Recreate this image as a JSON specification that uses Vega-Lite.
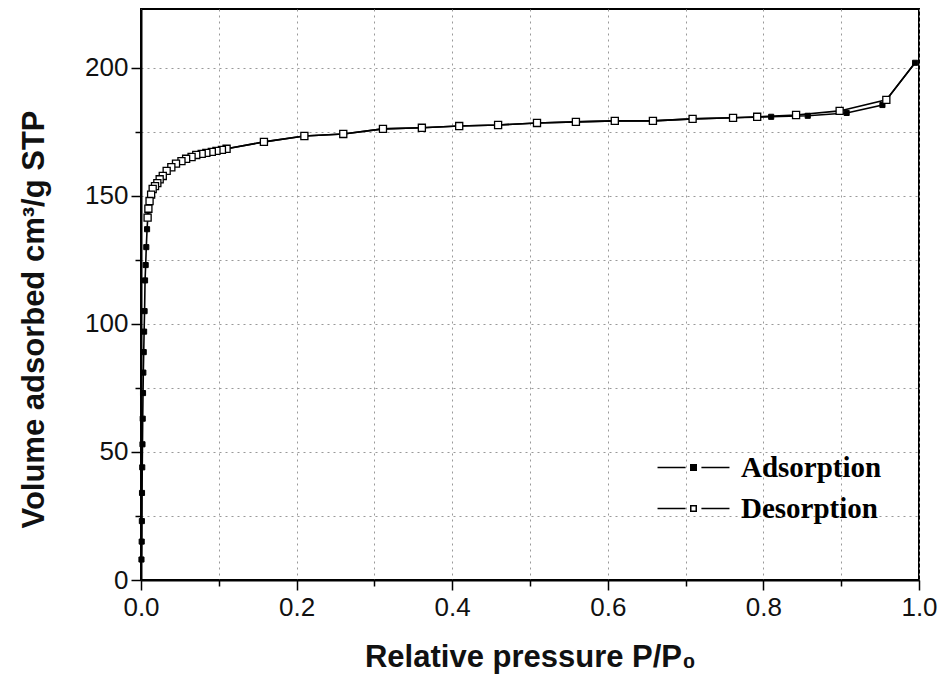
{
  "$schema": "https://vega.github.io/schema/vega-lite/v6.json",
  "width": 778,
  "height": 571,
  "autosize": {"type": "none"},
  "padding": {"left": 141, "top": 9, "right": 22, "bottom": 105},
  "background": "white",
  "config": {
    "view": {"stroke": "black", "strokeWidth": 2},
    "axis": {
      "domainColor": "black", "domainWidth": 2,
      "tickColor": "black", "tickWidth": 1.5,
      "labelFont": "Liberation Sans", "labelFontSize": 26, "labelColor": "#111",
      "labelFlush": false,
      "titleFont": "Liberation Sans", "titleFontSize": 31, "titleFontWeight": "bold", "titleColor": "#111",
      "gridColor": "#999", "gridDash": [2, 4], "gridWidth": 1
    }
  },
  "datasets": {
    "iso": [
      {"P": 0.0006, "V": 8, "series": "Adsorption"},
      {"P": 0.0009, "V": 15, "series": "Adsorption"},
      {"P": 0.0011, "V": 23, "series": "Adsorption"},
      {"P": 0.0013, "V": 34, "series": "Adsorption"},
      {"P": 0.0016, "V": 44, "series": "Adsorption"},
      {"P": 0.0019, "V": 53, "series": "Adsorption"},
      {"P": 0.0022, "V": 63, "series": "Adsorption"},
      {"P": 0.0026, "V": 73, "series": "Adsorption"},
      {"P": 0.003, "V": 81, "series": "Adsorption"},
      {"P": 0.0035, "V": 89, "series": "Adsorption"},
      {"P": 0.004, "V": 97, "series": "Adsorption"},
      {"P": 0.0046, "V": 105, "series": "Adsorption"},
      {"P": 0.0052, "V": 117, "series": "Adsorption"},
      {"P": 0.006, "V": 123, "series": "Adsorption"},
      {"P": 0.0068, "V": 130, "series": "Adsorption"},
      {"P": 0.0078, "V": 137, "series": "Adsorption"},
      {"P": 0.0088, "V": 142, "series": "Adsorption"},
      {"P": 0.0105, "V": 147, "series": "Adsorption"},
      {"P": 0.0128, "V": 150, "series": "Adsorption"},
      {"P": 0.015, "V": 152.7, "series": "Adsorption"},
      {"P": 0.021, "V": 155, "series": "Adsorption"},
      {"P": 0.028, "V": 157.8, "series": "Adsorption"},
      {"P": 0.033, "V": 159.8, "series": "Adsorption"},
      {"P": 0.039, "V": 161.2, "series": "Adsorption"},
      {"P": 0.045, "V": 162.6, "series": "Adsorption"},
      {"P": 0.052, "V": 163.6, "series": "Adsorption"},
      {"P": 0.058, "V": 164.5, "series": "Adsorption"},
      {"P": 0.065, "V": 165.2, "series": "Adsorption"},
      {"P": 0.071, "V": 166, "series": "Adsorption"},
      {"P": 0.078, "V": 166.4, "series": "Adsorption"},
      {"P": 0.084, "V": 166.8, "series": "Adsorption"},
      {"P": 0.091, "V": 167.2, "series": "Adsorption"},
      {"P": 0.097, "V": 167.6, "series": "Adsorption"},
      {"P": 0.104, "V": 168, "series": "Adsorption"},
      {"P": 0.11, "V": 168.4, "series": "Adsorption"},
      {"P": 0.158, "V": 171.1, "series": "Adsorption"},
      {"P": 0.21, "V": 173.4, "series": "Adsorption"},
      {"P": 0.26, "V": 174.2, "series": "Adsorption"},
      {"P": 0.311, "V": 176.2, "series": "Adsorption"},
      {"P": 0.361, "V": 176.6, "series": "Adsorption"},
      {"P": 0.409, "V": 177.3, "series": "Adsorption"},
      {"P": 0.459, "V": 177.7, "series": "Adsorption"},
      {"P": 0.509, "V": 178.5, "series": "Adsorption"},
      {"P": 0.559, "V": 178.9, "series": "Adsorption"},
      {"P": 0.609, "V": 179.3, "series": "Adsorption"},
      {"P": 0.658, "V": 179.3, "series": "Adsorption"},
      {"P": 0.709, "V": 180.1, "series": "Adsorption"},
      {"P": 0.761, "V": 180.5, "series": "Adsorption"},
      {"P": 0.81, "V": 180.9, "series": "Adsorption"},
      {"P": 0.857, "V": 181.3, "series": "Adsorption"},
      {"P": 0.907, "V": 182.4, "series": "Adsorption"},
      {"P": 0.953, "V": 185.5, "series": "Adsorption"},
      {"P": 0.995, "V": 202, "series": "Adsorption"},
      {"P": 0.995, "V": 202, "series": "Desorption"},
      {"P": 0.958, "V": 187.5, "series": "Desorption"},
      {"P": 0.898, "V": 183.2, "series": "Desorption"},
      {"P": 0.842, "V": 181.6, "series": "Desorption"},
      {"P": 0.792, "V": 180.9, "series": "Desorption"},
      {"P": 0.761, "V": 180.5, "series": "Desorption"},
      {"P": 0.709, "V": 180.1, "series": "Desorption"},
      {"P": 0.658, "V": 179.3, "series": "Desorption"},
      {"P": 0.609, "V": 179.3, "series": "Desorption"},
      {"P": 0.559, "V": 178.9, "series": "Desorption"},
      {"P": 0.509, "V": 178.5, "series": "Desorption"},
      {"P": 0.459, "V": 177.7, "series": "Desorption"},
      {"P": 0.409, "V": 177.3, "series": "Desorption"},
      {"P": 0.361, "V": 176.6, "series": "Desorption"},
      {"P": 0.311, "V": 176.2, "series": "Desorption"},
      {"P": 0.26, "V": 174.2, "series": "Desorption"},
      {"P": 0.21, "V": 173.4, "series": "Desorption"},
      {"P": 0.158, "V": 171.1, "series": "Desorption"},
      {"P": 0.11, "V": 168.4, "series": "Desorption"},
      {"P": 0.104, "V": 168, "series": "Desorption"},
      {"P": 0.097, "V": 167.6, "series": "Desorption"},
      {"P": 0.091, "V": 167.2, "series": "Desorption"},
      {"P": 0.084, "V": 166.8, "series": "Desorption"},
      {"P": 0.078, "V": 166.4, "series": "Desorption"},
      {"P": 0.071, "V": 166, "series": "Desorption"},
      {"P": 0.065, "V": 165.2, "series": "Desorption"},
      {"P": 0.058, "V": 164.5, "series": "Desorption"},
      {"P": 0.052, "V": 163.6, "series": "Desorption"},
      {"P": 0.045, "V": 162.6, "series": "Desorption"},
      {"P": 0.039, "V": 161.2, "series": "Desorption"},
      {"P": 0.033, "V": 159.8, "series": "Desorption"},
      {"P": 0.028, "V": 157.8, "series": "Desorption"},
      {"P": 0.024, "V": 156.5, "series": "Desorption"},
      {"P": 0.021, "V": 155, "series": "Desorption"},
      {"P": 0.018, "V": 153.8, "series": "Desorption"},
      {"P": 0.015, "V": 152.7, "series": "Desorption"},
      {"P": 0.013, "V": 150.5, "series": "Desorption"},
      {"P": 0.011, "V": 148, "series": "Desorption"},
      {"P": 0.0095, "V": 145, "series": "Desorption"},
      {"P": 0.0085, "V": 141.5, "series": "Desorption"}
    ]
  },
  "data": {"name": "iso"},
  "encoding": {
    "x": {
      "field": "P", "type": "quantitative",
      "scale": {"domain": [0, 1], "nice": false, "zero": false},
      "axis": {
        "title": "Relative pressure P/P₀",
        "values": [0, 0.1, 0.2, 0.3, 0.4, 0.5, 0.6, 0.7, 0.8, 0.9, 1.0],
        "labelExpr": "round(datum.value*10) % 2 == 0 ? format(datum.value, '.1f') : ''",
        "tickSize": {"condition": {"test": "round(datum.value*10) % 2 == 0", "value": 10}, "value": 6},
        "labelPadding": 4,
        "titlePadding": 22,
        "grid": true
      }
    },
    "y": {
      "field": "V", "type": "quantitative",
      "scale": {"domain": [0, 223], "nice": false},
      "axis": {
        "title": "Volume adsorbed cm³/g STP",
        "values": [0, 25, 50, 75, 100, 125, 150, 175, 200],
        "labelExpr": "datum.value % 50 == 0 ? format(datum.value, 'd') : ''",
        "tickSize": {"condition": {"test": "datum.value % 50 == 0", "value": 10}, "value": 6},
        "labelPadding": 3,
        "titlePadding": 34,
        "titleY": 310,
        "grid": true
      }
    }
  },
  "layer": [
    {
      "mark": {"type": "line", "stroke": "black", "strokeWidth": 1.6},
      "encoding": {"detail": {"field": "series"}}
    },
    {
      "transform": [{"filter": "datum.series == 'Adsorption'"}],
      "mark": {"type": "square", "filled": true, "stroke": "black", "strokeWidth": 1, "size": 26, "opacity": 1},
      "encoding": {
        "fill": {
          "field": "series", "type": "nominal",
          "scale": {"domain": ["Adsorption", "Desorption"], "range": ["black", "white"]},
          "legend": {
            "orient": "none", "legendX": 538, "legendY": 444, "title": null,
            "symbolType": "M-5,0H-1.1M1.1,0H5M-0.38,-0.38H0.38V0.38H-0.38Z",
            "symbolSize": 207,
            "symbolStrokeColor": "black", "symbolStrokeWidth": 1.5, "symbolOpacity": 1,
            "labelFont": "Liberation Serif", "labelFontSize": 29, "labelFontWeight": "bold", "labelColor": "black",
            "labelOffset": 33, "rowPadding": 11
          }
        }
      }
    },
    {
      "transform": [{"filter": "datum.series == 'Desorption' && datum.P < 0.99"}],
      "mark": {"type": "square", "filled": true, "stroke": "black", "strokeWidth": 1.3, "size": 50, "opacity": 1},
      "encoding": {
        "fill": {"field": "series", "type": "nominal"}
      }
    }
  ]
}
